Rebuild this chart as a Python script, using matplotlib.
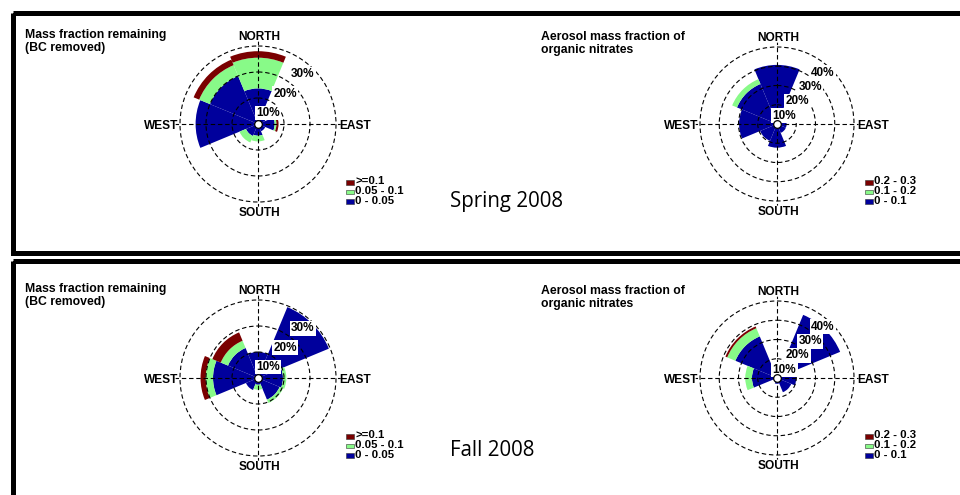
import numpy as np
import matplotlib
matplotlib.use("Agg")
import matplotlib.pyplot as plt
from matplotlib.patches import Rectangle

# ---------------- data ----------------
directions = ["N", "NE", "E", "SE", "S", "SW", "W", "NW"]
dir_angles = [0, 45, 90, 135, 180, 225, 270, 315]

# Spring 2008 - mass fraction remaining (BC removed), % frequency per bin
spring_mf_low = [13.7, 3.0, 6.4, 3.0, 4.5, 5.0, 24.0, 20.0]
spring_mf_mid = [11.8, 0.0, 0.7, 0.0, 2.2, 2.7, 0.0, 4.5]
spring_mf_high = [2.5, 0.0, 0.8, 0.0, 0.0, 0.0, 0.0, 2.3]
mf_labels = ["0 - 0.05", "0.05 - 0.1", ">=0.1"]

# Spring 2008 - aerosol mass fraction of organic nitrates
spring_on_low = [30.7, 5.0, 5.0, 5.0, 12.3, 9.5, 19.7, 22.5]
spring_on_mid = [0.0, 0.0, 0.0, 0.0, 0.0, 0.0, 0.0, 2.7]
spring_on_high = [0.0, 0.0, 0.0, 0.0, 0.0, 0.0, 0.0, 0.0]
on_labels = ["0 - 0.1", "0.1 - 0.2", "0.2 - 0.3"]

# Fall 2008 - mass fraction remaining
fall_mf_low = [10.0, 29.5, 9.6, 9.0, 2.6, 5.0, 17.3, 12.5]
fall_mf_mid = [0.0, 0.0, 1.3, 1.4, 1.9, 0.0, 2.8, 3.0]
fall_mf_high = [0.0, 0.0, 0.0, 0.0, 0.0, 0.0, 2.0, 3.5]

# Fall 2008 - organic nitrates
fall_on_low = [8.0, 35.5, 10.0, 8.0, 3.0, 2.0, 13.0, 23.4]
fall_on_mid = [0.0, 0.0, 0.0, 0.0, 0.0, 0.0, 3.5, 4.6]
fall_on_high = [0.0, 0.0, 0.0, 0.0, 0.0, 0.0, 0.0, 1.0]

rings_mf = [10, 20, 30]
rings_on = [10, 20, 30, 40]

colors = ["#00009c", "#88fa88", "#7a0000"]  # low, mid, high

W, H = 960, 495
fig = plt.figure(figsize=(W / 100, H / 100), dpi=100)
bg = fig.add_axes([0, 0, 1, 1])
bg.set_xlim(0, W)
bg.set_ylim(H, 0)
bg.axis("off")

FONT = "Liberation Sans"

# frames
bg.add_patch(Rectangle((12.5, 12.5), 980, 240.5, fill=False, ec="black", lw=3.6, zorder=1))
bg.add_patch(Rectangle((12.5, 260.5), 980, 300, fill=False, ec="black", lw=3.6, zorder=1))


def rose(cx, cy, Rpx, rings, low, mid, high, label_ang, label_off):
    rmax = rings[-1]
    ext = 1.06
    Rax = Rpx * ext
    ax = fig.add_axes([(cx - Rax) / W, (H - cy - Rax) / H, 2 * Rax / W, 2 * Rax / H],
                      projection="polar")
    ax.set_theta_zero_location("N")
    ax.set_theta_direction(-1)
    ax.set_facecolor("none")
    ax.set_ylim(0, rmax * ext)
    th = np.deg2rad(dir_angles)
    wd = np.deg2rad(45)
    low = np.array(low)
    mid = np.array(mid)
    high = np.array(high)
    ax.bar(th, low, width=wd, bottom=0, color=colors[0], edgecolor="none", zorder=1)
    ax.bar(th, mid, width=wd, bottom=low, color=colors[1], edgecolor="none", zorder=1)
    ax.bar(th, high, width=wd, bottom=low + mid, color=colors[2], edgecolor="none", zorder=1)
    ax.set_rgrids(rings, labels=[""] * len(rings))
    ax.set_thetagrids([0, 90, 180, 270], labels=[""] * 4)
    ax.set_axisbelow(False)
    ax.grid(True, color="black", linestyle=(0, (4, 2.5)), linewidth=0.8)
    ax.spines["polar"].set_visible(False)
    for rg in rings:
        ax.text(np.deg2rad(label_ang), rg - label_off, f"{rg}%", ha="center", va="center",
                fontsize=8.5, fontweight="bold", family=FONT, zorder=6,
                bbox=dict(fc="white", ec="none", pad=1.0))
    ax.plot([0], [0], marker="o", ms=5.5, mfc="white", mec="black", mew=0.9, zorder=7,
            clip_on=False)
    # compass labels
    kw = dict(fontsize=8.6, fontweight="bold", family=FONT)
    bg.text(cx + 1, cy - Rpx - 9, "NORTH", ha="center", va="center", **kw)
    bg.text(cx + 1, cy + Rpx + 11, "SOUTH", ha="center", va="center", **kw)
    bg.text(cx - Rpx - 2, cy + 2, "WEST", ha="right", va="center", **kw)
    bg.text(cx + Rpx + 3, cy + 2, "EAST", ha="left", va="center", **kw)


def legend(x, y, labels):
    # labels from top: high, mid, low
    items = [(labels[2], colors[2]), (labels[1], colors[1]), (labels[0], colors[0])]
    for i, (lab, col) in enumerate(items):
        yy = y + i * 9.5
        bg.add_patch(Rectangle((x, yy - 2), 8, 4.5, fc=col, ec="#333333", lw=0.4, zorder=3))
        bg.text(x + 9, yy - 0.5, lab, ha="left", va="center", fontsize=8.2, fontweight="bold",
                family=FONT, zorder=3)


rose(258, 124, 78, rings_mf, spring_mf_low, spring_mf_mid, spring_mf_high, 42, 4.3)
rose(777, 124, 77, rings_on, spring_on_low, spring_on_mid, spring_on_high, 42, 4.2)
rose(258, 378, 78, rings_mf, fall_mf_low, fall_mf_mid, fall_mf_high, 42, 4.3)
rose(777, 378, 77, rings_on, fall_on_low, fall_on_mid, fall_on_high, 42, 4.2)

legend(346, 182, mf_labels)
legend(865, 182, on_labels)
legend(346, 436, mf_labels)
legend(865, 436, on_labels)

tkw = dict(fontsize=8.8, fontweight="bold", family=FONT, ha="left", va="top", linespacing=1.1)
bg.text(25, 29, "Mass fraction remaining\n(BC removed)", **tkw)
bg.text(541, 31, "Aerosol mass fraction of\norganic nitrates", **tkw)
bg.text(25, 283, "Mass fraction remaining\n(BC removed)", **tkw)
bg.text(541, 285, "Aerosol mass fraction of\norganic nitrates", **tkw)

bg.text(450, 202, "Spring 2008", fontsize=14.8, family="Open Sans", ha="left", va="center")
bg.text(450, 451, "Fall 2008", fontsize=14.8, family="Open Sans", ha="left", va="center")

fig.savefig("out.png", dpi=100)
